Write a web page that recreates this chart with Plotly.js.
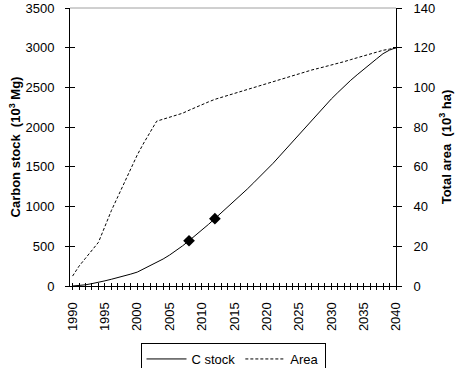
<!DOCTYPE html>
<html><head><meta charset="utf-8">
<script src="https://cdn.plot.ly/plotly-3.0.1.min.js"></script>
<style>body{margin:0;background:#fff}#c{width:457px;height:368px}</style>
</head><body><div id="c"></div>
<script>
const years = [];
for (let y = 1990; y <= 2040; y++) years.push(y);
const cStock = [0,5,15,30,45,65,85,105,125,150,175,215,255,295,340,390,445,505,570,635,705,775,848,920,995,1070,1145,1220,1300,1380,1460,1545,1635,1725,1815,1905,2000,2090,2180,2270,2355,2435,2515,2590,2660,2730,2795,2860,2925,2970,3000];
const area = [5,10,14,18,22,30,38,45,52,59,66,72,77.5,83,84,85,86,87,88.5,90,91.5,92.7,94,95,96,97,98,99,100,101,102,103,104,105,106,107,108,108.8,109.6,110.4,111.2,112,113,114,115,116,117,118,118.7,119.3,120];
const markerYears = [2008, 2012];
const markerValues = markerYears.map(y => cStock[years.indexOf(y)]);
const tickLabels = years.map(y => (y % 5 === 0 ? String(y) : ''));

const font = {family: 'Liberation Sans, Arial, sans-serif', size: 13, color: '#000'};
const traces = [
  {x: years, y: cStock, type: 'scatter', mode: 'lines', name: 'C stock', line: {color: '#000', width: 1}, yaxis: 'y'},
  {x: years, y: area, type: 'scatter', mode: 'lines', name: 'Area', line: {color: '#000', width: 1, dash: '3px,2px'}, yaxis: 'y2'},
  {x: markerYears, y: markerValues, type: 'scatter', mode: 'markers', showlegend: false, marker: {symbol: 'diamond', size: 9, color: '#000'}, yaxis: 'y'}
];
const xr = [1989.6, 2040];
const layout = {
  width: 457, height: 368,
  margin: {l: 70, r: 61, t: 8, b: 82, autoexpand: false},
  paper_bgcolor: '#fff', plot_bgcolor: '#fff',
  font: font,
  showlegend: true,
  legend: {orientation: 'h', x: 0.5, xanchor: 'center', y: -0.205, yanchor: 'top', bordercolor: '#000', borderwidth: 1, font: {size: 13}, traceorder: 'normal', itemwidth: 40},
  xaxis: {range: xr, automargin: false, tickmode: 'array', tickvals: years, ticktext: tickLabels, tickangle: -90, ticks: 'outside', ticklen: 3, tickcolor: '#000', ticklabelstandoff: 7, showline: true, linecolor: '#000', linewidth: 1, showgrid: false, zeroline: false, tickfont: {size: 13}},
  xaxis2: {range: xr, automargin: false, overlaying: 'x', tickmode: 'array', tickvals: years, ticks: 'inside', ticklen: 3, tickcolor: '#000', showticklabels: false, showgrid: false, zeroline: false, showline: false},
  yaxis: {range: [0, 3500], automargin: false, dtick: 500, ticks: 'outside', ticklen: 4, tickcolor: '#000', ticklabelstandoff: 8, showline: true, linecolor: '#000', linewidth: 1, showgrid: false, zeroline: false,
    title: {text: '<b>Carbon stock  (10<sup>3</sup> Mg)</b>', font: {size: 13}}},
  yaxis3: {range: [0, 3500], automargin: false, dtick: 500, overlaying: 'y', side: 'left', ticks: 'inside', ticklen: 5, tickcolor: '#000', showticklabels: false, showgrid: false, zeroline: false, showline: false},
  yaxis2: {range: [0, 140], automargin: false, dtick: 20, overlaying: 'y', side: 'right', ticks: 'outside', ticklen: 5, tickcolor: '#000', ticklabelstandoff: 9, showline: true, linecolor: '#000', linewidth: 1, showgrid: false, zeroline: false,
    title: {text: '<b>Total area  (10<sup>3</sup> ha)</b>', font: {size: 13}}},
  yaxis4: {range: [0, 140], automargin: false, dtick: 20, overlaying: 'y', side: 'right', ticks: 'inside', ticklen: 3, tickcolor: '#000', showticklabels: false, showgrid: false, zeroline: false, showline: false},
  shapes: [{type: 'line', xref: 'paper', yref: 'paper', x0: 0, x1: 1, y0: 1, y1: 1, line: {color: '#a0a0a0', width: 1}}]
};
traces.push({x: [xr[0]], y: [0], xaxis: 'x2', yaxis: 'y3', mode: 'markers', marker: {opacity: 0}, showlegend: false, hoverinfo: 'skip'});
traces.push({x: [xr[0]], y: [0], xaxis: 'x2', yaxis: 'y4', mode: 'markers', marker: {opacity: 0}, showlegend: false, hoverinfo: 'skip'});
Plotly.newPlot('c', traces, layout, {staticPlot: true});
</script></body></html>
